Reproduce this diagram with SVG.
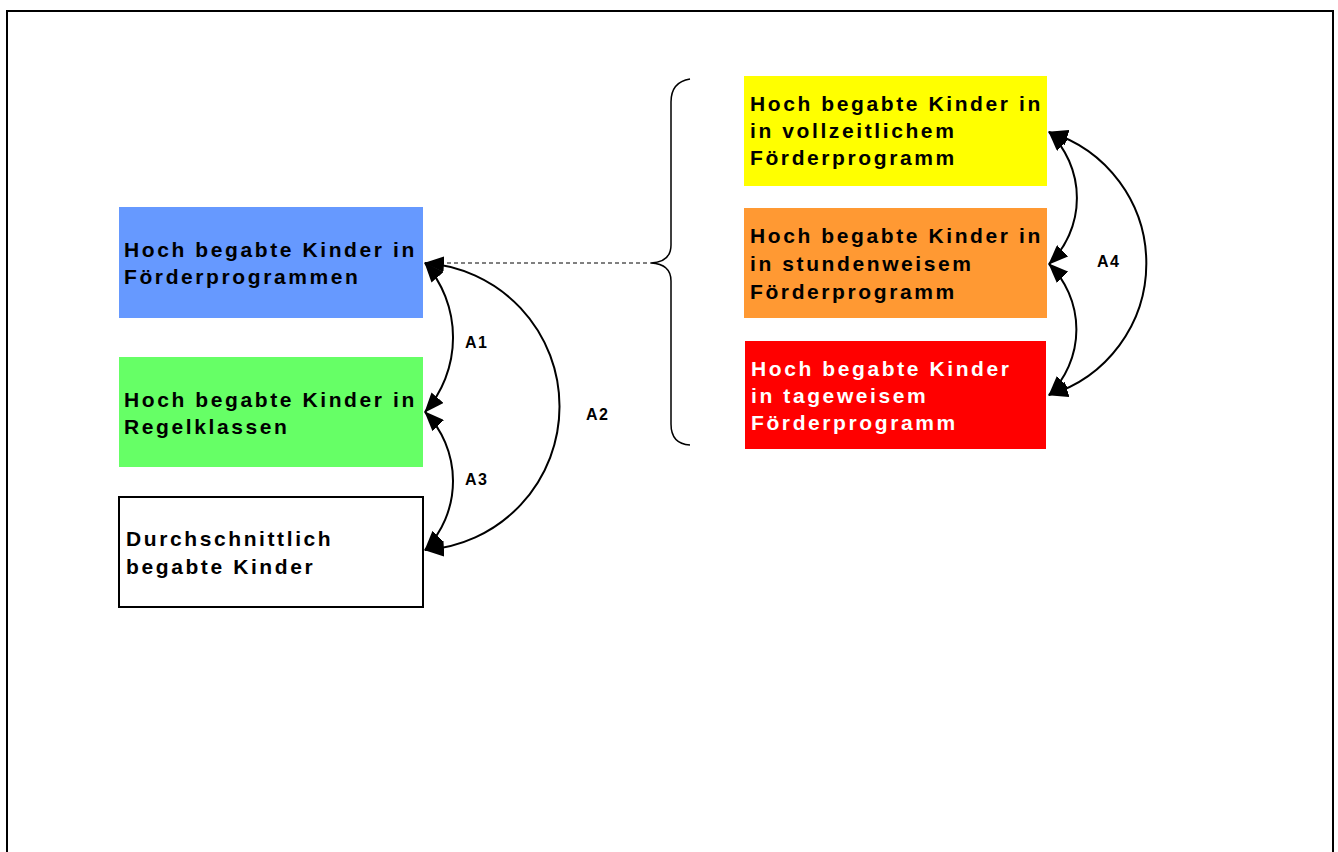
<svg xmlns="http://www.w3.org/2000/svg" width="1338" height="852" viewBox="0 0 1338 852">
<style>
.t{font-family:"Liberation Sans",Arial,sans-serif;font-weight:bold;font-size:21px;letter-spacing:2.6px;fill:#000}
.w{fill:#fff}
.l{font-family:"Liberation Sans",Arial,sans-serif;font-weight:bold;font-size:16px;letter-spacing:1.5px;fill:#000}
.c{fill:none;stroke:#000;stroke-width:2}
</style>
<defs>
<marker id="a" viewBox="0 0 20 16" refX="19" refY="8" markerWidth="20" markerHeight="16" markerUnits="userSpaceOnUse" orient="auto-start-reverse">
<path d="M0,0 L20,8 L0,16 z" fill="#000"/>
</marker>
</defs>
<rect width="1338" height="852" fill="#fff"/>
<path d="M7,852 V11 H1333 V852" fill="none" stroke="#000" stroke-width="2"/>

<g id="n-blue"><rect x="119" y="207" width="304" height="111" fill="#6699FF"/>
<text class="t" x="124" y="257">Hoch begabte Kinder in</text><text class="t" x="124" y="284">Förderprogrammen</text></g>
<g id="n-green"><rect x="119" y="357" width="304" height="110" fill="#66FF66"/>
<text class="t" x="124" y="407">Hoch begabte Kinder in</text><text class="t" x="124" y="434">Regelklassen</text></g>
<g id="n-white"><rect x="119" y="497" width="304" height="110" fill="#fff" stroke="#000" stroke-width="2"/>
<text class="t" x="126" y="546">Durchschnittlich</text><text class="t" x="126" y="574">begabte Kinder</text></g>
<g id="n-yellow"><rect x="744" y="76" width="303" height="110" fill="#FFFF00"/>
<text class="t" x="750" y="111">Hoch begabte Kinder in</text><text class="t" x="750" y="138">in vollzeitlichem</text><text class="t" x="750" y="165">Förderprogramm</text></g>
<g id="n-orange"><rect x="744" y="208" width="303" height="110" fill="#FF9933"/>
<text class="t" x="750" y="243">Hoch begabte Kinder in</text><text class="t" x="750" y="271">in stundenweisem</text><text class="t" x="750" y="299">Förderprogramm</text></g>
<g id="n-red"><rect x="745" y="341" width="301" height="108" fill="#FF0000"/>
<text class="t w" x="751" y="376">Hoch begabte Kinder</text><text class="t w" x="751" y="403">in tageweisem</text><text class="t w" x="751" y="430">Förderprogramm</text></g>

<g id="connectors">
<line x1="440" y1="263" x2="651" y2="263" stroke="#000" stroke-width="1" stroke-dasharray="4,3"/>
<path d="M690,79 Q671,82 671,102 V245 Q671,262 651,263 Q671,264 671,281 V424 Q671,444 690,445" fill="none" stroke="#000" stroke-width="1.5"/>
<path class="c" d="M425,263 A113,113 0 0 1 425,412" marker-start="url(#a)" marker-end="url(#a)"/>
<path class="c" d="M425,412 A99,99 0 0 1 425,550" marker-start="url(#a)" marker-end="url(#a)"/>
<path class="c" d="M425,263 A143.8,143.8 0 0 1 425,550" marker-start="url(#a)" marker-end="url(#a)"/>
<path class="c" d="M1049,132 A92,92 0 0 1 1049,264" marker-start="url(#a)" marker-end="url(#a)"/>
<path class="c" d="M1049,264 A92,92 0 0 1 1049,395" marker-start="url(#a)" marker-end="url(#a)"/>
<path class="c" d="M1049,132 A137.5,137.5 0 0 1 1049,395" marker-start="url(#a)" marker-end="url(#a)"/>
<text class="l" x="465" y="348">A1</text>
<text class="l" x="586" y="420">A2</text>
<text class="l" x="465" y="485">A3</text>
<text class="l" x="1097" y="267">A4</text>
</g>
</svg>
